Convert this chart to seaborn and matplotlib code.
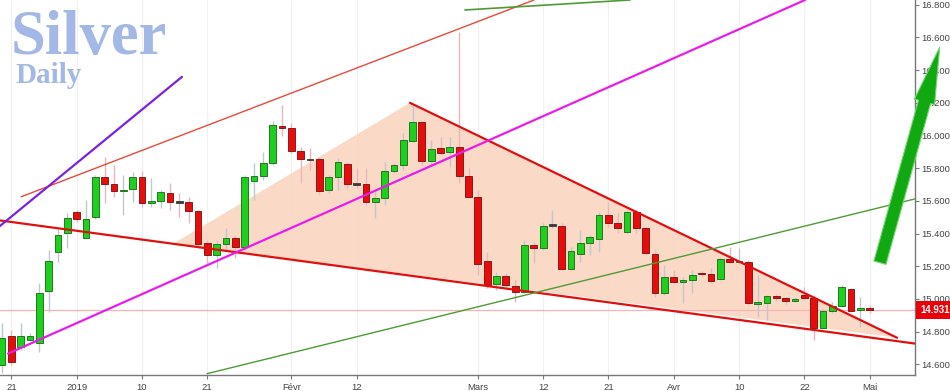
import numpy as np
import pandas as pd
import matplotlib
matplotlib.use("Agg")
import matplotlib.pyplot as plt
import seaborn as sns

# ---------------- data ----------------
opens = [14.596, 14.776, 14.708, 14.751, 14.729, 15.051, 15.286, 15.406, 15.534, 15.375,
         15.500, 15.744, 15.702, 15.661, 15.671, 15.744, 15.585, 15.599, 15.646, 15.595,
         15.591, 15.538, 15.341, 15.267, 15.335, 15.371, 15.320, 15.724, 15.754, 15.834,
         16.060, 16.048, 15.905, 15.856, 15.854, 15.667, 15.748, 15.826, 15.706, 15.706,
         15.595, 15.616, 15.785, 15.820, 15.968, 16.081, 15.846, 15.922, 15.901, 15.932,
         15.752, 15.622, 15.234, 15.090, 15.141, 15.080, 15.045, 15.330, 15.310, 15.448,
         15.448, 15.183, 15.273, 15.341, 15.367, 15.516, 15.463, 15.408, 15.534, 15.436,
         15.275, 15.039, 15.133, 15.102, 15.114, 15.160, 15.153, 15.120, 15.243, 15.224,
         15.228, 14.969, 14.974, 15.020, 15.004, 14.988, 15.023, 15.008, 14.824, 14.928,
         14.957, 15.059, 14.931, 14.947]
highs = [14.853, 14.810, 14.852, 14.790, 15.098, 15.300, 15.432, 15.524, 15.544, 15.606,
         15.760, 15.870, 15.820, 15.758, 15.779, 15.785, 15.738, 15.667, 15.708, 15.646,
         15.626, 15.544, 15.361, 15.361, 15.432, 15.391, 15.760, 15.830, 15.901, 16.090,
         16.187, 16.075, 15.932, 15.922, 15.870, 15.760, 15.861, 15.840, 15.799, 15.799,
         15.667, 15.840, 15.830, 16.013, 16.193, 16.090, 15.972, 15.993, 15.993, 16.633,
         15.799, 15.667, 15.289, 15.167, 15.160, 15.116, 15.361, 15.350, 15.463, 15.544,
         15.463, 15.320, 15.422, 15.391, 15.534, 15.595, 15.524, 15.544, 15.544, 15.442,
         15.300, 15.208, 15.177, 15.136, 15.177, 15.170, 15.190, 15.259, 15.320, 15.310,
         15.239, 15.147, 15.024, 15.030, 15.010, 15.010, 15.075, 15.024, 14.940, 14.983,
         15.086, 15.070, 15.014, 14.963]
lows = [14.549, 14.596, 14.688, 14.740, 14.678, 14.922, 15.228, 15.310, 15.473, 15.371,
        15.490, 15.587, 15.626, 15.514, 15.595, 15.561, 15.561, 15.555, 15.544, 15.503,
        15.463, 15.330, 15.208, 15.188, 15.300, 15.249, 15.300, 15.606, 15.728, 15.820,
        16.000, 15.891, 15.709, 15.789, 15.645, 15.650, 15.667, 15.677, 15.677, 15.575,
        15.494, 15.575, 15.770, 15.789, 15.960, 15.820, 15.820, 15.881, 15.809, 15.708,
        15.616, 15.147, 15.065, 15.055, 15.070, 14.983, 15.035, 15.218, 15.300, 15.432,
        15.177, 15.177, 15.228, 15.269, 15.289, 15.442, 15.402, 15.402, 15.402, 15.269,
        15.014, 15.024, 15.096, 14.974, 15.035, 15.140, 15.097, 15.116, 15.218, 15.215,
        14.963, 14.892, 14.872, 14.990, 14.970, 14.980, 14.994, 14.749, 14.820, 14.913,
        14.953, 14.920, 14.831, 14.913]
closes = [14.763, 14.617, 14.774, 14.776, 15.035, 15.234, 15.391, 15.494, 15.489, 15.489,
          15.744, 15.702, 15.661, 15.669, 15.744, 15.585, 15.601, 15.653, 15.591, 15.589,
          15.538, 15.335, 15.267, 15.335, 15.371, 15.320, 15.744, 15.754, 15.834, 16.064,
          16.048, 15.905, 15.856, 15.850, 15.662, 15.748, 15.840, 15.703, 15.700, 15.595,
          15.620, 15.785, 15.820, 15.972, 16.081, 15.846, 15.917, 15.895, 15.932, 15.754,
          15.622, 15.214, 15.083, 15.141, 15.086, 15.045, 15.330, 15.310, 15.448, 15.450,
          15.183, 15.294, 15.344, 15.377, 15.516, 15.463, 15.436, 15.534, 15.436, 15.283,
          15.039, 15.136, 15.102, 15.116, 15.149, 15.150, 15.112, 15.243, 15.224, 15.232,
          14.974, 14.980, 15.020, 15.008, 14.988, 15.000, 15.004, 14.824, 14.927, 14.955,
          15.075, 14.928, 14.947, 14.931]

tick_pos = [1, 8, 15, 22, 31, 38, 51, 58, 65, 72, 79, 86, 93]
tick_labels = ["21", "2019", "10", "21", "Févr", "12", "Mars", "12", "21", "Avr", "10", "22", "Mai"]
y_ticks = [14.6, 14.8, 15.0, 15.2, 15.4, 15.6, 15.8, 16.0, 16.2, 16.4, 16.6, 16.8]
last_price = 14.931

# trend lines (bar index, price)
lower_red_x = [-0.3, 97.9]
lower_red_y = [15.481, 14.727]
upper_red_x = [43.73, 95.93]
upper_red_y = [16.200, 14.763]
wedge_x = [18.33, 43.73, 95.93]
wedge_y = [15.338, 16.200, 14.763]
magenta_x = [0.64, 86.07]
magenta_y = [14.666, 16.829]
thin_red_x = [2.04, 57.02]
thin_red_y = [15.625, 16.829]
purple_x = [-0.3, 19.29]
purple_y = [15.443, 16.359]
green_top_x = [49.62, 67.31]
green_top_y = [16.768, 16.829]
green_low_x = [21.97, 97.9]
green_low_y = [14.543, 15.613]
arrow_tail = (94.1, 15.222)
arrow_tip = (100.5, 16.54)

df = pd.DataFrame({"o": opens, "h": highs, "l": lows, "c": closes})
df["i"] = np.arange(len(df))

# ---------------- style ----------------
sns.set_theme(style="white")
plt.rcParams["font.family"] = ["Liberation Sans", "DejaVu Sans"]

fig = plt.figure(figsize=(9.5, 3.91), dpi=100)
ax = fig.add_axes([0.0, 0.0409, 0.9632, 0.9591])

ax.set_xlim(-0.214, 97.86)
ax.set_ylim(14.535, 16.829)

# faint vertical grid at tick positions
for t in tick_pos:
    ax.axvline(t, color="#f0f0f0", lw=0.8, zorder=0)

# wedge shading
ax.fill(wedge_x, wedge_y, color="#fbd5c1", alpha=0.9, zorder=1, lw=0)

# price line
ax.axhline(last_price, color="#f6b4b4", lw=0.9, zorder=1.5)

# candles
up = df["c"] >= df["o"]
doji = (df["c"] - df["o"]).abs() < 0.007
body_col = np.where(doji, "#3a3a3a", np.where(up, "#1fcf1f", "#e80c0c"))
edge_col = np.where(doji, "#3a3a3a", np.where(up, "#0f6a0f", "#7a0a0a"))
wick_col = np.where(up, "#bfc8d2", "#e8b7bd")

ax.vlines(df["i"], df["l"], df["h"], colors=wick_col, lw=1.0, zorder=2)
bottoms = np.minimum(df["o"], df["c"])
heights = np.maximum((df["c"] - df["o"]).abs(), 0.008)
ax.bar(df["i"], heights, bottom=bottoms, width=0.72, color=body_col,
       edgecolor=edge_col, linewidth=0.6, zorder=3)

# trend lines
sns.lineplot(x=lower_red_x, y=lower_red_y, ax=ax, color="#e01010", lw=1.6, zorder=4)
sns.lineplot(x=upper_red_x, y=upper_red_y, ax=ax, color="#e01010", lw=1.6, zorder=4)
sns.lineplot(x=magenta_x, y=magenta_y, ax=ax, color="#e81ee8", lw=1.6, zorder=4)
sns.lineplot(x=thin_red_x, y=thin_red_y, ax=ax, color="#e84a3a", lw=1.0, zorder=4)
sns.lineplot(x=purple_x, y=purple_y, ax=ax, color="#7a22e0", lw=1.6, zorder=4)
sns.lineplot(x=green_top_x, y=green_top_y, ax=ax, color="#4f9a35", lw=1.2, zorder=4)
sns.lineplot(x=green_low_x, y=green_low_y, ax=ax, color="#4f9a35", lw=1.0, zorder=4)

# big green arrow
ax.annotate("", xy=arrow_tip, xytext=arrow_tail, xycoords="data",
            annotation_clip=False,
            arrowprops=dict(arrowstyle="simple,head_length=3.4,head_width=1.25,tail_width=0.75",
                            mutation_scale=12, fc="#12a812", ec="#6fd46f", lw=0.8,
                            shrinkA=0, shrinkB=0, clip_on=False),
            zorder=6)

# axes styling
sns.despine(ax=ax, left=True, top=True, right=False, bottom=False)
for s in ["right", "bottom"]:
    ax.spines[s].set_color("#777777")
    ax.spines[s].set_linewidth(1.0)
ax.yaxis.tick_right()
ax.set_yticks(y_ticks)
ax.set_yticklabels([f"{v:.3f}" for v in y_ticks])
ax.set_xticks(tick_pos)
ax.set_xticklabels(tick_labels)
ax.tick_params(axis="both", which="both", direction="out", length=3, width=0.8,
               color="#777777", labelsize=6.8, labelcolor="#444444", pad=1.5)
ax.tick_params(axis="y", left=False, right=True)
ax.tick_params(axis="x", bottom=True, pad=2.5)
ax.grid(False)

# last price label
ax.annotate(f"{last_price:.3f}", xy=(1.0, last_price),
            xycoords=("axes fraction", "data"), xytext=(3.5, 0),
            textcoords="offset points", ha="left", va="center",
            fontsize=6.9, color="white", fontweight="bold",
            bbox=dict(boxstyle="square,pad=0.4", fc="#e8000b", ec="none"),
            annotation_clip=False, zorder=7)

# titles
fig.text(11 / 950, 1 - 54 / 391, "Silver", fontsize=45, fontweight="bold",
         family=["Liberation Serif", "DejaVu Serif"], color="#a3b8e6", va="baseline", ha="left")
fig.text(15 / 950, 1 - 83 / 391, "Daily", fontsize=21, fontweight="bold",
         family=["Liberation Serif", "DejaVu Serif"], color="#a3b8e6", va="baseline", ha="left")

fig.savefig("out.png", dpi=100)
